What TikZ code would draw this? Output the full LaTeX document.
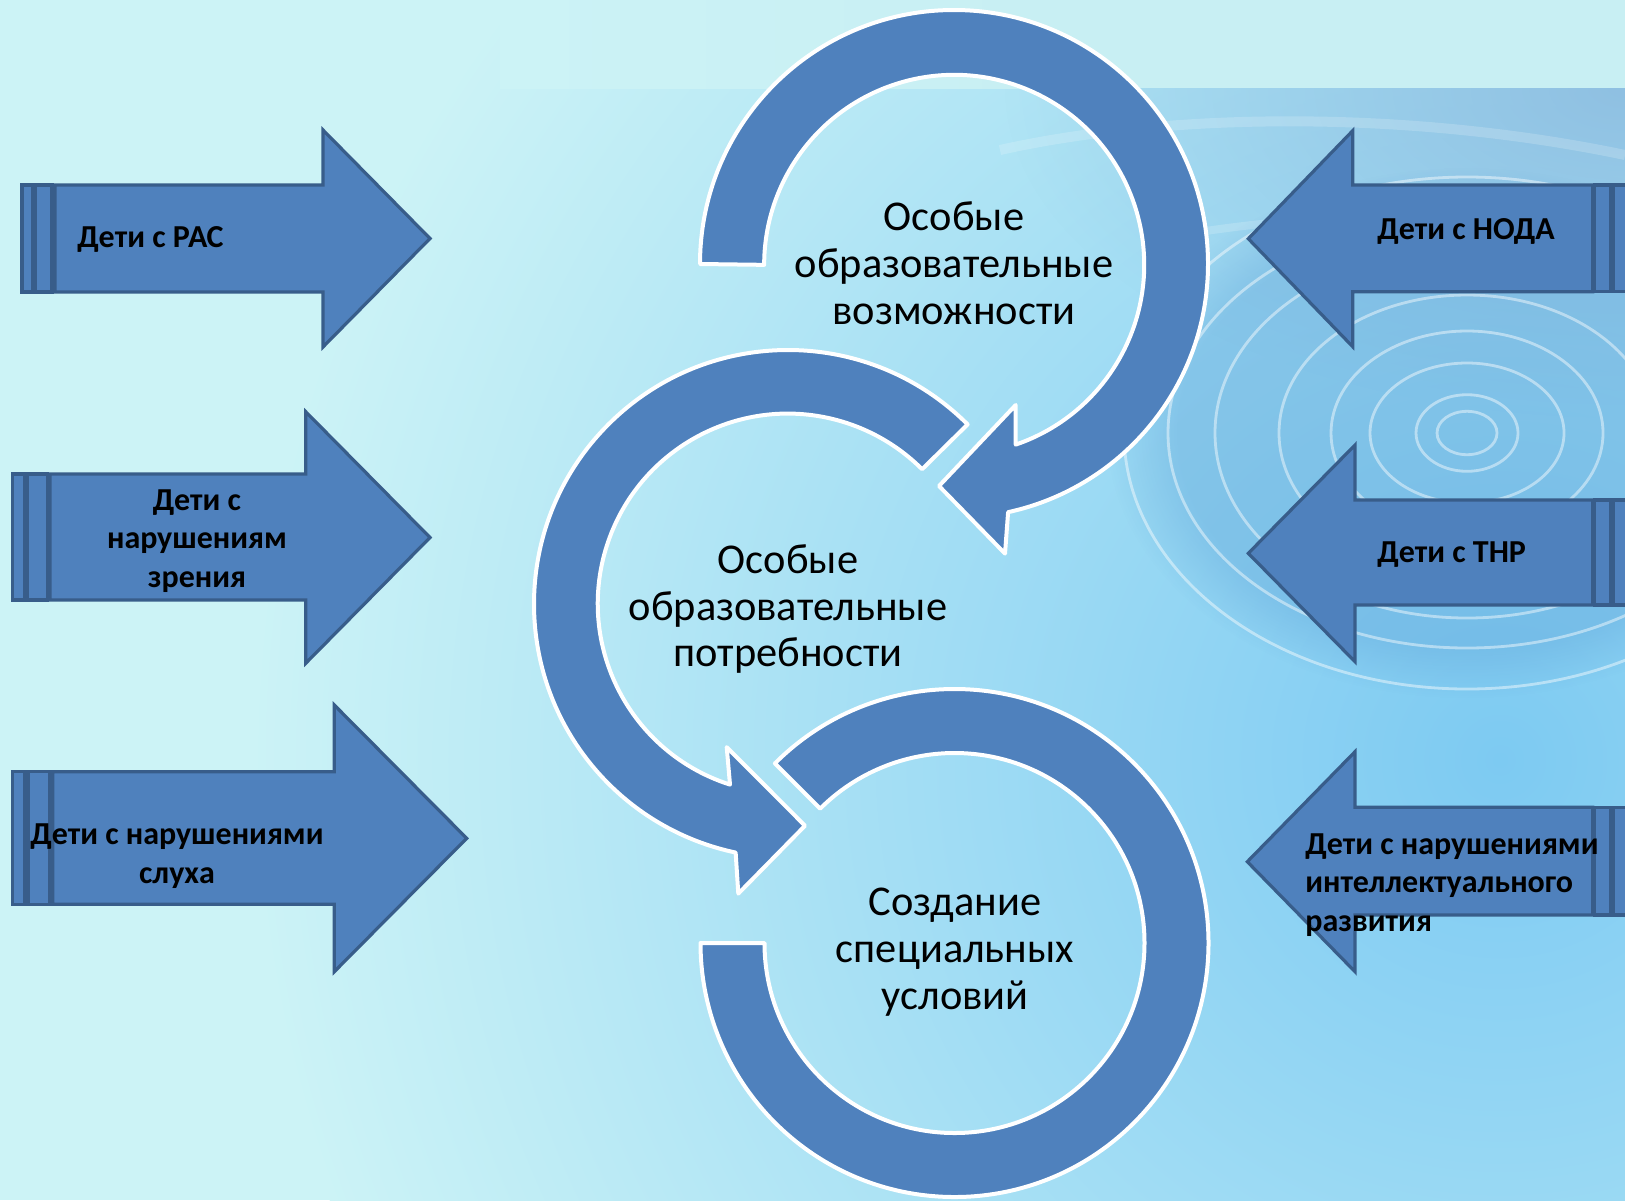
\documentclass[tikz,border=0pt]{standalone}
\usepackage{fontspec}
\setmainfont{Carlito}
\usetikzlibrary{fadings}
\definecolor{ringblue}{HTML}{4F81BD}
\definecolor{arrline}{HTML}{385D8A}
\definecolor{bgOuter}{HTML}{CCF3F6}
\definecolor{bgInner}{HTML}{7DCAF2}
\definecolor{bandR}{HTML}{8FC0E2}
\definecolor{topstrip}{HTML}{C8EFF3}
\definecolor{rippledark}{HTML}{5A9FD6}
\tikzfading[name=softglow, inner color=transparent!0, outer color=transparent!100]
\begin{document}
\begin{tikzpicture}[x=0.5pt, y=-0.5pt,
  ring/.style={fill=ringblue, draw=white, line width=2pt, line join=round},
  arrowbody/.style={fill=ringblue, draw=arrline, line width=1.6pt, line join=miter},
  lbl/.style={font=\fontsize{16}{19.25}\selectfont\bfseries, text=black, inner sep=0pt},
  ctext/.style={font=\fontsize{21.2}{23.4}\selectfont, align=center, text=black, inner sep=0pt},
  ripple/.style={draw=white, draw opacity=0.45, line width=1.4pt}]
\useasboundingbox (0,0) rectangle (1625,1200);
\clip (0,0) rectangle (1625,1200);
% background
\fill[bgOuter] (0,0) rectangle (1625,1200);
\shade[inner color=bgInner, outer color=bgOuter] (1500,760) circle[radius=1250];
\fill[bandR, path fading=softglow] (1625,88) ellipse [x radius=620, y radius=330];
\shade[left color=bgOuter, right color=topstrip] (500,0) rectangle (1050,88);
\fill[topstrip] (1049,0) rectangle (1625,88);
\draw[white, opacity=0.18, line width=5pt] (1000,150) .. controls (1180,110) and (1420,112) .. (1625,155);
\draw[white, opacity=0.18, line width=4pt] (1180,235) .. controls (1330,210) and (1500,210) .. (1625,220);
% ripples
\fill[rippledark, opacity=0.35, path fading=circle with fuzzy edge 20 percent] (1467,433) ellipse [x radius=360, y radius=265];
\foreach \rx/\ry in {30/21.7, 51/38.3, 97/70, 136/102, 188/138, 252/185, 299/215, 343/256}
  \draw[ripple] (1467,433) ellipse [x radius=\rx, y radius=\ry];
% circular arrows
\draw[ring] (954,264) ++(180:254) arc[start angle=180, end angle=437.7, radius=254]
  -- (1005,553.6) -- (939,486) -- (1015.7,405) -- (1015.7,444.6)
  arc[start angle=431.1, end angle=180, radius=190] -- cycle;
\draw[ring] (788,604) ++(-45:254) arc[start angle=-45, end angle=-258.1, radius=254]
  -- (738.3,893.6) -- (805,825.7) -- (726.7,747.1) -- (730,784.6)
  arc[start angle=-252.3, end angle=-45, radius=190] -- cycle;
\draw[ring] (954.5,943) ++(225:254) arc[start angle=225, end angle=540, radius=254]
  -- ++(64,0) arc[start angle=540, end angle=225, radius=190] -- cycle;
% left arrows
\draw[arrowbody] (22,185) rectangle (33,292);
\draw[arrowbody] (35,185) rectangle (52,292);
\draw[arrowbody] (55,185) -- (323,185) -- (323,130) -- (430,238.5) -- (323,347) -- (323,292) -- (55,292) -- cycle;
\draw[arrowbody] (12.7,474) rectangle (25,600);
\draw[arrowbody] (27.7,474) rectangle (47.7,600);
\draw[arrowbody] (50,474) -- (305.7,474) -- (305.7,411.7) -- (430,537.5) -- (305.7,663.3) -- (305.7,600) -- (50,600) -- cycle;
\draw[arrowbody] (12.7,771.7) rectangle (25,904.3);
\draw[arrowbody] (28.3,771.7) rectangle (49.3,904.3);
\draw[arrowbody] (52.7,771.7) -- (334.3,771.7) -- (334.3,705) -- (466.7,838.3) -- (334.3,971.7) -- (334.3,904.3) -- (52.7,904.3) -- cycle;
% right arrows
\draw[arrowbody] (1613.5,185) rectangle (1630,291.7);
\draw[arrowbody] (1594.5,185) rectangle (1611,291.7);
\draw[arrowbody] (1592.7,185) -- (1352.7,185) -- (1352.7,130.7) -- (1248.3,238.7) -- (1352.7,346.7) -- (1352.7,291.7) -- (1592.7,291.7) -- cycle;
\draw[arrowbody] (1613.5,500) rectangle (1630,605);
\draw[arrowbody] (1594.5,500) rectangle (1611,605);
\draw[arrowbody] (1592.7,500) -- (1355,500) -- (1355,445) -- (1248.3,553.3) -- (1355,661.7) -- (1355,605) -- (1592.7,605) -- cycle;
\draw[arrowbody] (1613.5,807.3) rectangle (1630,915);
\draw[arrowbody] (1594.5,807.3) rectangle (1611,915);
\draw[arrowbody] (1592.7,807.3) -- (1355,807.3) -- (1355,751.7) -- (1247.3,861.7) -- (1355,971.7) -- (1355,915) -- (1592.7,915) -- cycle;
% texts
\node[ctext] (t1) at (954,263) {Особые\\образовательные\\возможности};
\node[ctext] (t2) at (788,609) {Особые\\образовательные\\потребности};
\node[ctext] (t3) at (955,952) {Создание\\специальных\\условий};
\node[lbl, anchor=base west] (a1) at (77,247) {Дети с РАС};
\node[lbl, align=center] (a2) at (197,541) {Дети с\\нарушениям\\зрения};
\node[lbl, align=center] (a3) at (177,856) {Дети с нарушениями\\слуха};
\node[lbl, anchor=base west] (a4) at (1377,239) {Дети с НОДА};
\node[lbl, anchor=base west] (a5) at (1377,562) {Дети с ТНР};
\node[lbl, align=left, anchor=west] (a6) at (1305,885) {Дети с нарушениями\\интеллектуального\\развития};
\end{tikzpicture}
\end{document}
